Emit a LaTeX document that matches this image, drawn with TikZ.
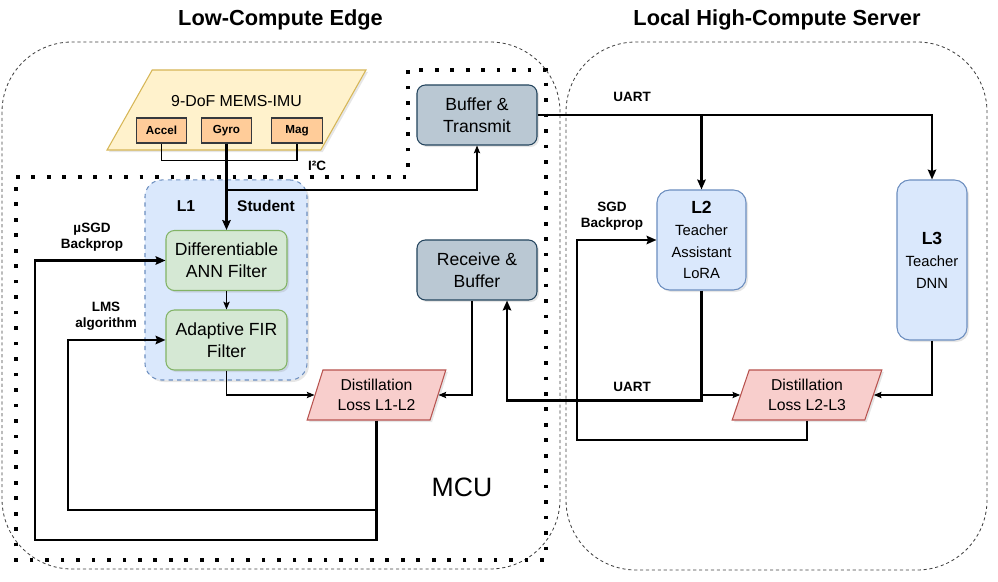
\documentclass[tikz,border=0pt]{standalone}
\usepackage{fontspec}
\setmainfont{Liberation Sans}
\usetikzlibrary{shapes.geometric, calc, arrows.meta, shadows}

\definecolor{imufill}{HTML}{FFF2CC}
\definecolor{imuline}{HTML}{D6B656}
\definecolor{sensfill}{HTML}{FFCC99}
\definecolor{sensline}{HTML}{36393D}
\definecolor{bluefill}{HTML}{DAE8FC}
\definecolor{blueline}{HTML}{6C8EBF}
\definecolor{greenfill}{HTML}{D5E8D4}
\definecolor{greenline}{HTML}{82B366}
\definecolor{grayfill}{HTML}{BAC8D3}
\definecolor{grayline}{HTML}{23445D}
\definecolor{redfill}{HTML}{F8CECC}
\definecolor{redline}{HTML}{B85450}

\tikzset{
  shad/.style={drop shadow={opacity=0.2, shadow xshift=0.05cm, shadow yshift=-0.05cm}},
  filterbox/.style={draw=greenline, fill=greenfill, rounded corners=6pt, minimum width=3.025cm, minimum height=1.5cm, align=center, font=\fontsize{12.5}{15.4}\selectfont, shad},
  linkbox/.style={draw=grayline, fill=grayfill, rounded corners=6pt, minimum width=3cm, minimum height=1.5cm, align=center, font=\fontsize{12.5}{15.4}\selectfont, shad},
  sensbox/.style={draw=sensline, fill=sensfill, minimum width=1.27cm, minimum height=0.625cm, inner sep=0pt, font=\fontsize{8.3}{10}\selectfont\bfseries},
  teacher/.style={draw=blueline, fill=bluefill, rounded corners=9pt, align=center, font=\fontsize{10.5}{15.6}\selectfont, shad},
  lossbox/.style={trapezium, trapezium stretches=true, trapezium left angle=70, trapezium right angle=110, draw=redline, fill=redfill, minimum height=1.25cm, inner sep=0pt, align=center, font=\fontsize{11.2}{14.2}\selectfont, shad},
  edge label/.style={font=\fontsize{9.6}{11}\selectfont\bfseries, align=center},
  title/.style={font=\fontsize{15.5}{18}\selectfont\bfseries},
  zone/.style={draw=black!75, line width=0.6pt, dash pattern=on 2.2pt off 2pt, rounded corners=1.75cm},
  thickline/.style={line width=1.5pt},
}

\begin{document}
\begin{tikzpicture}[x=0.025cm, y=-0.025cm, line width=0.75pt,
    >={Stealth[length=4pt 2, width=3pt 2, inset=1pt]}]
    \useasboundingbox (0,0) rectangle (998,582);

    % edge and server zones
    \node[title] (edge-title) at (280.5,20) {Low-Compute Edge};
    \node[title] (server-title) at (777,20) {Local High-Compute Server};
    \draw[zone] (2,42) rectangle (560,569);
    \draw[zone] (566,42) rectangle (987,570);
    \draw[line width=2.6pt, dash pattern=on 2.6pt off 8.4pt]
      (16,177) -- (408,177) -- (408,70) -- (546,70) -- (546,560) -- (16,560) -- cycle;
    \node[font=\fontsize{18.9}{22}\selectfont] (mcu) at (462,487) {MCU};

    % sensor
    \node[trapezium, trapezium stretches=true, trapezium left angle=75, trapezium right angle=105,
      draw=imuline, fill=imufill, minimum width=6.475cm, minimum height=2cm, shad] (imu) at (236.5,110) {};
    \node[font=\fontsize{11.3}{13}\selectfont] (imu-name) at (236.5,101) {9-DoF MEMS-IMU};
    \node[sensbox] (accel) at (161.5,130.5) {Accel};
    \node[sensbox] (gyro) at (226.5,130.5) {Gyro};
    \node[sensbox] (mag) at (297,130.5) {Mag};

    % student
    \node[draw=blueline, fill=bluefill, dashed, rounded corners=12pt,
      minimum width=4.05cm, minimum height=5cm, shad] (l1) at (226,280) {};
    \node[font=\fontsize{11.2}{13}\selectfont\bfseries] (l1-name) at (186,206) {L1};
    \node[font=\fontsize{11}{13}\selectfont\bfseries] (l1-role) at (266,206) {Student};
    \node[filterbox] (ann) at (226.5,260.5) {Differentiable\\ANN Filter};
    \node[filterbox] (fir) at (226.5,340) {Adaptive FIR\\Filter};

    \node[linkbox] (bt) at (477,115) {Buffer \&\\Transmit};
    \node[linkbox] (rb) at (477,270) {Receive \&\\Buffer};
    \node[lossbox, minimum width=3.475cm] (lossa) at (376.5,395) {Distillation\\Loss L1-L2};

    % teachers
    \node[teacher, minimum width=2.225cm, minimum height=2.5cm] (l2) at (701.5,240)
      {\textbf{\fontsize{12.5}{15.6}\selectfont L2}\\Teacher\\Assistant\\LoRA};
    \node[teacher, minimum width=1.75cm, minimum height=4cm] (l3) at (932,260)
      {\textbf{\fontsize{12.5}{15.6}\selectfont L3}\\Teacher\\DNN};
    \node[lossbox, minimum width=3.75cm] (lossb) at (807,395) {Distillation\\Loss L2-L3};

    % sensor bus
    \draw (accel.south) -- ++(0,17) -| (mag.south);
    \draw[->, thickline] (gyro.south) -- (ann.north);
    \node[edge label] (i2c) at (317,166) {I²C};
    \coordinate (tap) at (226.5,190);
    \draw[->] (tap) -| (bt.south);

    % student path
    \draw[->] (ann.south) -- (fir.north);
    \draw[->] (fir.south) |- (lossa.west);
    \draw[->] ($(rb.south)+(-5,0)$) |- (lossa.east);
    \coordinate (sgd-corner) at (35,540);
    \coordinate (lms-corner) at (68,510);
    \draw[->, thickline] (lossa.south) |- (sgd-corner) |- (ann.west);
    \draw[->, thickline] (lossa.south |- lms-corner) -- (lms-corner) |- (fir.west);
    \node[edge label] (sgd-label) at (92,237) {µSGD\\Backprop};
    \node[edge label] (lms-label) at (106,316) {LMS\\algorithm};

    % uart links
    \draw[->, thickline] (bt.east) -| (l3.north);
    \draw[->, thickline] (bt.east -| l2.north) -- (l2.north);
    \node[edge label] (uart-up) at (632,97) {UART};
    \draw[->, thickline] (l2.south) -- ++(0,110) -| ($(rb.south)+(30,0)$);
    \node[edge label] (uart-down) at (632,387) {UART};

    % teacher losses
    \draw[->] (l2.south |- lossb.west) -- (lossb.west);
    \draw[->] (l3.south) |- (lossb.east);
    \coordinate (sgd2-corner) at (577,440);
    \draw[->, thickline] (lossb.south) |- (sgd2-corner) |- (l2.west);
    \node[edge label] (sgd2-label) at (612,216) {SGD\\Backprop};
\end{tikzpicture}
\end{document}
